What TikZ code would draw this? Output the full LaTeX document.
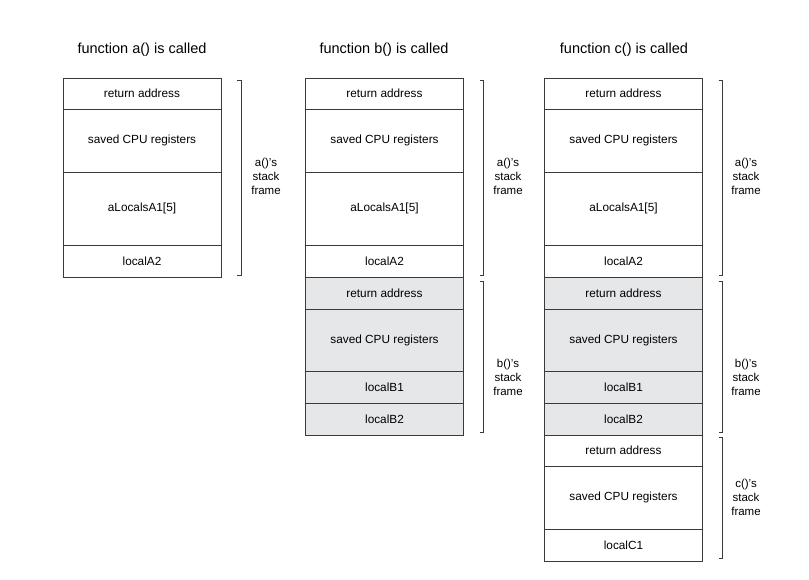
\documentclass[tikz,border=0pt]{standalone}
\usepackage{fontspec}
\setmainfont{Liberation Sans}
\usepackage{tikz}
\usetikzlibrary{positioning}
\definecolor{framegray}{HTML}{E6E7E8}
\definecolor{linegray}{HTML}{3A3A3A}
\tikzstyle{cell} = [draw=linegray, line width=0.8pt, rectangle, inner sep=0pt,
    outer sep=0pt, minimum width=158pt, font=\fontsize{11.8}{13}\selectfont]
\tikzstyle{shaded} = [cell, fill=framegray]
\tikzstyle{heading} = [font=\fontsize{14.5}{16}\selectfont]
\tikzstyle{framelabel} = [align=center, font=\fontsize{11.5}{14}\selectfont]
\tikzstyle{brace} = [draw=linegray, line width=0.8pt]

\begin{document}
\begin{tikzpicture}[x=1pt, y=-1pt]
        \useasboundingbox (0,0) rectangle (809,580);

        % function a() is called
        \node[heading] (ahead) at (142,50) {function a() is called};
        \node[cell, anchor=north, minimum height=31pt] (aret) at (142,78) {return address};
        \node[cell, below=0pt of aret, minimum height=63pt] (aregs) {saved CPU registers};
        \node[cell, below=0pt of aregs, minimum height=73pt] (alocA1) {aLocalsA1[5]};
        \node[cell, below=0pt of alocA1, minimum height=32pt] (alocA2) {localA2};
        \draw[brace] ([xshift=16pt,yshift=-2pt]aret.north east) -- ++(4,0) |- ([xshift=16pt,yshift=2pt]alocA2.south east);
        \node[framelabel] (alabel) at (266,176) {a()'s\\stack\\frame};

        % function b() is called
        \node[heading] (bhead) at (384,50) {function b() is called};
        \node[cell, anchor=north, minimum height=31pt] (bret) at (384.5,78) {return address};
        \node[cell, below=0pt of bret, minimum height=63pt] (bregs) {saved CPU registers};
        \node[cell, below=0pt of bregs, minimum height=73pt] (blocA1) {aLocalsA1[5]};
        \node[cell, below=0pt of blocA1, minimum height=32pt] (blocA2) {localA2};
        \node[shaded, below=0pt of blocA2, minimum height=32pt] (bretB) {return address};
        \node[shaded, below=0pt of bretB, minimum height=62pt] (bregsB) {saved CPU registers};
        \node[shaded, below=0pt of bregsB, minimum height=32pt] (blocB1) {localB1};
        \node[shaded, below=0pt of blocB1, minimum height=32pt] (blocB2) {localB2};
        \draw[brace] ([xshift=16pt,yshift=-2pt]bret.north east) -- ++(4,0) |- ([xshift=16pt,yshift=2pt]blocA2.south east);
        \draw[brace] ([xshift=16pt,yshift=-4pt]bretB.north east) -- ++(4,0) |- ([xshift=16pt,yshift=3pt]blocB2.south east);
        \node[framelabel] (balabel) at (508,176) {a()'s\\stack\\frame};
        \node[framelabel] (bblabel) at (508,377) {b()'s\\stack\\frame};

        % function c() is called
        \node[heading] (chead) at (624,50) {function c() is called};
        \node[cell, anchor=north, minimum height=31pt] (cret) at (623.5,78) {return address};
        \node[cell, below=0pt of cret, minimum height=63pt] (cregs) {saved CPU registers};
        \node[cell, below=0pt of cregs, minimum height=73pt] (clocA1) {aLocalsA1[5]};
        \node[cell, below=0pt of clocA1, minimum height=32pt] (clocA2) {localA2};
        \node[shaded, below=0pt of clocA2, minimum height=32pt] (cretB) {return address};
        \node[shaded, below=0pt of cretB, minimum height=62pt] (cregsB) {saved CPU registers};
        \node[shaded, below=0pt of cregsB, minimum height=32pt] (clocB1) {localB1};
        \node[shaded, below=0pt of clocB1, minimum height=32pt] (clocB2) {localB2};
        \node[cell, below=0pt of clocB2, minimum height=31pt] (cretC) {return address};
        \node[cell, below=0pt of cretC, minimum height=63pt] (cregsC) {saved CPU registers};
        \node[cell, below=0pt of cregsC, minimum height=32pt] (clocC1) {localC1};
        \draw[brace] ([xshift=16pt,yshift=-2pt]cret.north east) -- ++(4,0) |- ([xshift=16pt,yshift=2pt]clocA2.south east);
        \draw[brace] ([xshift=16pt,yshift=-4pt]cretB.north east) -- ++(4,0) |- ([xshift=16pt,yshift=3pt]clocB2.south east);
        \draw[brace] ([xshift=16pt,yshift=-2pt]cretC.north east) -- ++(4,0) |- ([xshift=16pt,yshift=3pt]clocC1.south east);
        \node[framelabel] (calabel) at (746,176) {a()'s\\stack\\frame};
        \node[framelabel] (cblabel) at (746,377) {b()'s\\stack\\frame};
        \node[framelabel] (cclabel) at (746,497) {c()'s\\stack\\frame};
\end{tikzpicture}
\end{document}
